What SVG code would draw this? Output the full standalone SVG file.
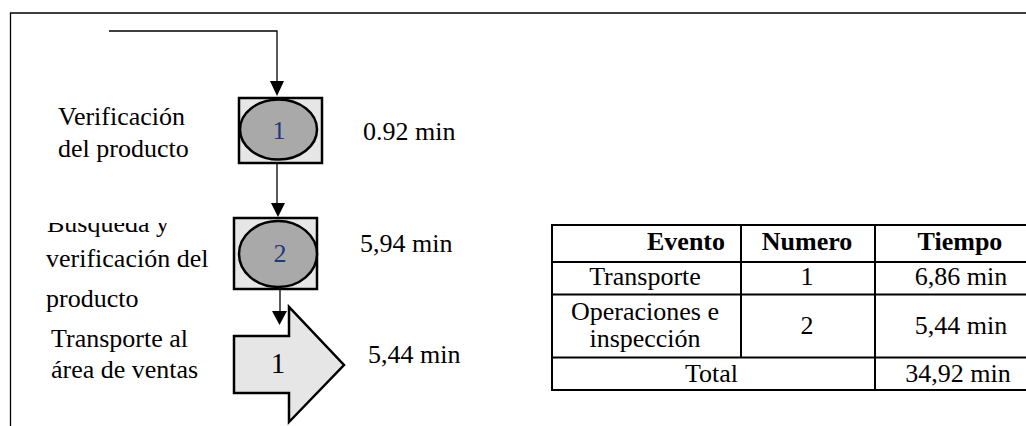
<svg xmlns="http://www.w3.org/2000/svg" width="1026" height="426" viewBox="0 0 1026 426">
  <style>
    .t { font-family: "Liberation Serif", "Times New Roman", serif; font-size: 26px; fill: #000; }
    .b { font-weight: bold; }
    .c { text-anchor: middle; }
    .num { font-family: "Liberation Serif", "Times New Roman", serif; font-size: 26px; fill: #1f3a7a; text-anchor: middle; }
    .ln { stroke: #000; stroke-width: 1.3; fill: none; }
    .head { fill: #000; }
    .box { fill: #e6e6e6; stroke: #000; stroke-width: 2.5; }
    .ell { fill: #a9a9a9; stroke: #000; stroke-width: 2.5; }
    .grid { stroke: #000; stroke-width: 2; fill: none; }
  </style>
  <defs>
    <!-- keeps only the lower part of the first line of label 2 -->
    <clipPath id="clipTop">
      <rect x="0" y="223" width="230" height="120"/>
    </clipPath>
  </defs>

  <rect width="1026" height="426" fill="#fff"/>

  <!-- page frame -->
  <path class="ln" d="M10.5,426 V13 H1026" stroke-width="1.5"/>

  <!-- connectors -->
  <g id="connectors">
    <path class="ln" d="M109,31 H277 V81"/>
    <path class="head" d="M270,81 L284,81 L277,96 Z"/>
    <path class="ln" d="M277,163 V203"/>
    <path class="head" d="M271,203 L285,203 L278,217 Z"/>
    <path class="ln" d="M280,289 V311"/>
    <path class="head" d="M272,311 L287,311 L279.5,325 Z"/>
  </g>

  <!-- operation / inspection 1 -->
  <g id="op1">
    <rect class="box" x="239" y="98" width="83" height="65"/>
    <ellipse class="ell" cx="278.5" cy="129.5" rx="38.5" ry="30"/>
    <text class="num" x="279" y="139">1</text>
    <text class="t" x="58" y="125">Verificación</text>
    <text class="t" x="58" y="157">del producto</text>
    <text class="t" x="363" y="140">0.92 min</text>
  </g>

  <!-- operation / inspection 2 -->
  <g id="op2">
    <rect class="box" x="234" y="218" width="83" height="71"/>
    <ellipse class="ell" cx="278" cy="254" rx="39" ry="33"/>
    <text class="num" x="280" y="262">2</text>
    <text class="t" x="47" y="232" clip-path="url(#clipTop)">Busqueda y</text>
    <text class="t" x="46" y="267">verificación del</text>
    <text class="t" x="46" y="307">producto</text>
    <text class="t" x="360" y="252">5,94 min</text>
  </g>

  <!-- transport 1 -->
  <g id="tr1">
    <path class="box" d="M234,336 H289 V307 L344,365 L289,422 V393 H234 Z"/>
    <text class="t c" x="278" y="373" style="font-size:29px">1</text>
    <text class="t" x="51" y="347">Transporte al</text>
    <text class="t" x="51" y="378">área de ventas</text>
    <text class="t" x="368" y="363">5,44 min</text>
  </g>

  <!-- summary table -->
  <g id="summary">
    <path class="grid" d="M551,225 H1030 M551,262 H1030 M551,294.5 H1030 M551,357.5 H1030 M551,390 H1030 M552,225 V390 M741,225 V357.5 M875,225 V390"/>
    <text class="t b" x="725" y="250" text-anchor="end">Evento</text>
    <text class="t b c" x="807" y="250">Numero</text>
    <text class="t b c" x="960" y="250">Tiempo</text>
    <text class="t c" x="645" y="285">Transporte</text>
    <text class="t c" x="807" y="285">1</text>
    <text class="t c" x="961" y="285">6,86 min</text>
    <text class="t c" x="645" y="320">Operaciones e</text>
    <text class="t c" x="645" y="347">inspección</text>
    <text class="t c" x="807" y="334">2</text>
    <text class="t c" x="961" y="334">5,44 min</text>
    <text class="t" x="738" y="382" text-anchor="end">Total</text>
    <text class="t c" x="958" y="382">34,92 min</text>
  </g>
</svg>
